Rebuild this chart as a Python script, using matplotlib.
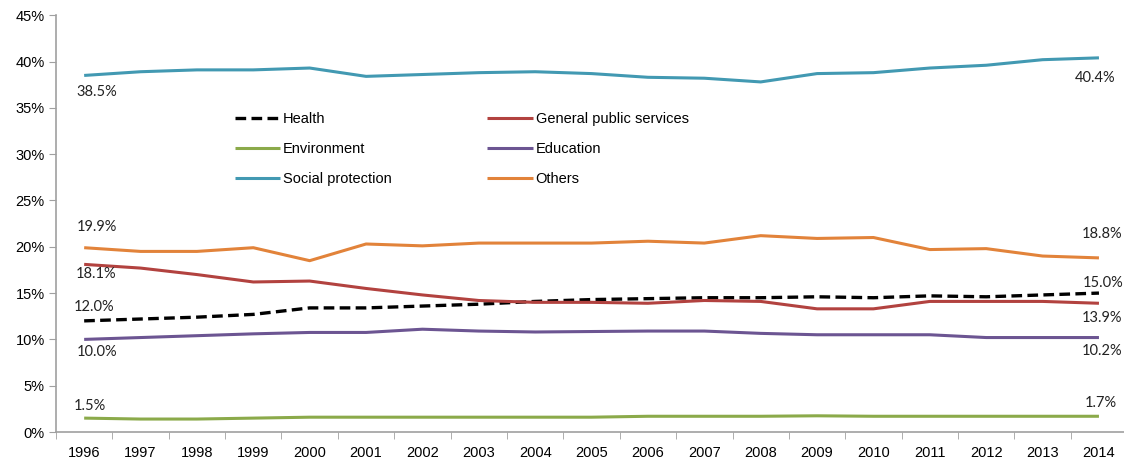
import matplotlib
matplotlib.use('Agg')
import matplotlib.pyplot as plt

years = [str(y) for y in range(1996, 2015)]

health = [12.0, 12.2, 12.4, 12.7, 13.4, 13.4, 13.6, 13.8, 14.1, 14.3,
          14.4, 14.5, 14.5, 14.6, 14.5, 14.7, 14.6, 14.8, 15.0]
general_public = [18.1, 17.7, 17.0, 16.2, 16.3, 15.5, 14.8, 14.2, 14.0, 14.0,
                  13.9, 14.2, 14.1, 13.3, 13.3, 14.1, 14.1, 14.1, 13.9]
environment = [1.5, 1.4, 1.4, 1.5, 1.6, 1.6, 1.6, 1.6, 1.6, 1.6,
               1.7, 1.7, 1.7, 1.75, 1.7, 1.7, 1.7, 1.7, 1.7]
education = [10.0, 10.2, 10.4, 10.6, 10.75, 10.75, 11.1, 10.9, 10.8, 10.85,
             10.9, 10.9, 10.65, 10.5, 10.5, 10.5, 10.2, 10.2, 10.2]
social = [38.5, 38.9, 39.1, 39.1, 39.3, 38.4, 38.6, 38.8, 38.9, 38.7,
          38.3, 38.2, 37.8, 38.7, 38.8, 39.3, 39.6, 40.2, 40.4]
others = [19.9, 19.5, 19.5, 19.9, 18.5, 20.3, 20.1, 20.4, 20.4, 20.4,
          20.6, 20.4, 21.2, 20.9, 21.0, 19.7, 19.8, 19.0, 18.8]

# name, values, colour, label offsets in pixels (dx, dy) for first and last year
series = [
    ('Health', health, 'black', (10, 14), (4, 10)),
    ('Environment', environment, '#8BAA4A', (6, 12), (2, 13)),
    ('Social protection', social, '#4299B2', (13, -17), (-4, -20)),
    ('General public services', general_public, '#B2423F', (12, -10), (3, -15)),
    ('Education', education, '#6C5592', (13, -13), (3, -13)),
    ('Others', others, '#E2833A', (13, 21), (3, 24)),
]

plt.rcParams['font.family'] = ['Liberation Sans', 'DejaVu Sans']

fig = plt.figure(figsize=(11.24, 4.59), dpi=100)
ax = fig.add_axes([0.0498, 0.0588, 0.953, 0.908])

x = list(range(len(years)))
for name, vals, col, off0, off1 in series:
    if name == 'Health':
        ax.plot(x, vals, color=col, lw=2.4, dashes=(3.2, 1.6), label=name)
    else:
        ax.plot(x, vals, color=col, lw=2.2, label=name, solid_capstyle='butt')
    for xi, (dx, dy) in ((0, off0), (len(x) - 1, off1)):
        ax.annotate('%.1f%%' % vals[xi], (xi, vals[xi]),
                    xytext=(dx * 0.72, dy * 0.72), textcoords='offset points',
                    ha='center', va='center', fontsize=10.5, family='Lato',
                    color='#222222')

ax.set_xlim(-0.5, 18.5)
ax.set_ylim(0, 45)
ax.set_yticks(range(0, 46, 5))
ax.set_yticklabels(['%d%%' % v for v in range(0, 46, 5)])
ax.set_xticks(x)
ax.set_xticklabels(years)
ax.set_xticks([i - 0.5 for i in range(len(years) + 1)], minor=True)
ax.tick_params(axis='x', which='major', length=0, pad=10, labelsize=10.5)
ax.tick_params(axis='x', which='minor', length=5, color='#A0A0A0', direction='out')
ax.tick_params(axis='y', length=5, color='#A0A0A0', labelsize=10.5, pad=3)

for side in ('top', 'right'):
    ax.spines[side].set_visible(False)
for side in ('left', 'bottom'):
    ax.spines[side].set_color('#A0A0A0')
    ax.spines[side].set_linewidth(1.2)

ax.legend(ncol=2, loc='upper left', bbox_to_anchor=(235 / 1124, 1 - 112 / 459),
          bbox_transform=fig.transFigure, frameon=False, fontsize=10.5,
          handlelength=3.1, handletextpad=0.2, columnspacing=6.55,
          labelspacing=1.09, borderpad=0, borderaxespad=0)

fig.savefig('out.png', dpi=100)
